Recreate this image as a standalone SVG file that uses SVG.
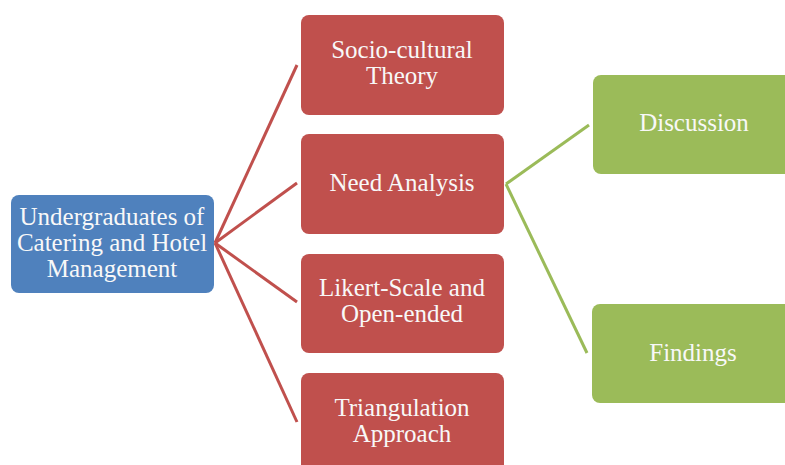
<svg xmlns="http://www.w3.org/2000/svg" width="785" height="465" viewBox="0 0 785 465">
  <style>
    .box { stroke: none; }
    .blue { fill: #4F81BD; }
    .red { fill: #C0504D; }
    .green { fill: #9BBB59; }
    .lbl { font-family: "Liberation Serif", "Times New Roman", serif; font-size: 25px; fill: #F8F8F8; text-anchor: middle; }
    .edge-red { stroke: #C0504D; stroke-width: 3; fill: none; }
    .edge-green { stroke: #9BBB59; stroke-width: 3; fill: none; }
  </style>
  <rect width="785" height="465" fill="#FFFFFF"/>

  <g id="connectors">
    <line class="edge-red" x1="215" y1="243" x2="297" y2="65"/>
    <line class="edge-red" x1="215" y1="243" x2="297" y2="183"/>
    <line class="edge-red" x1="215" y1="243" x2="297" y2="302"/>
    <line class="edge-red" x1="215" y1="243" x2="297" y2="422"/>
    <line class="edge-green" x1="506" y1="184" x2="589" y2="125"/>
    <line class="edge-green" x1="506" y1="184" x2="587" y2="353"/>
  </g>

  <g id="undergraduates">
    <rect class="box blue" x="11" y="195" width="203" height="98" rx="8"/>
    <text class="lbl" x="112" y="225">Undergraduates of</text>
    <text class="lbl" x="112" y="251">Catering and Hotel</text>
    <text class="lbl" x="112" y="277">Management</text>
  </g>

  <g id="sociocultural">
    <rect class="box red" x="301" y="15" width="203" height="100" rx="8"/>
    <text class="lbl" x="402" y="58">Socio-cultural</text>
    <text class="lbl" x="402" y="84">Theory</text>
  </g>

  <g id="need-analysis">
    <rect class="box red" x="301" y="134" width="203" height="100" rx="8"/>
    <text class="lbl" x="402" y="191">Need Analysis</text>
  </g>

  <g id="likert">
    <rect class="box red" x="301" y="254" width="203" height="99" rx="8"/>
    <text class="lbl" x="402" y="296">Likert-Scale and</text>
    <text class="lbl" x="402" y="322">Open-ended</text>
  </g>

  <g id="triangulation">
    <rect class="box red" x="301" y="373" width="203" height="100" rx="8"/>
    <text class="lbl" x="402" y="416">Triangulation</text>
    <text class="lbl" x="402" y="442">Approach</text>
  </g>

  <g id="discussion">
    <rect class="box green" x="593" y="75" width="203" height="99" rx="8"/>
    <text class="lbl" x="694" y="131">Discussion</text>
  </g>

  <g id="findings">
    <rect class="box green" x="592" y="304" width="203" height="99" rx="8"/>
    <text class="lbl" x="693" y="361">Findings</text>
  </g>
</svg>
